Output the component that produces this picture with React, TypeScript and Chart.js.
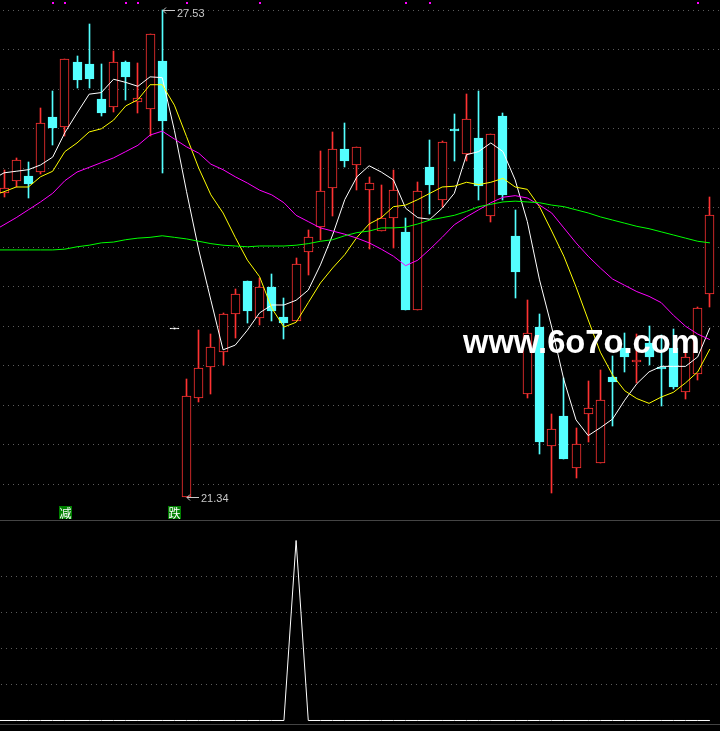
import React, { useEffect, useRef } from 'react';
import { Chart, registerables } from 'chart.js';

Chart.register(...registerables);

// ---- candle data (day 0..58) ----
const OPEN = [25.20, 25.36, 25.42, 25.47, 26.17, 26.04, 26.87, 26.84, 26.40, 26.30, 26.87, 26.36, 26.27, 26.88, 23.49, 21.34, 22.60, 22.99, 23.18, 23.67, 24.09, 23.62, 24.01, 23.63, 23.58, 24.45, 24.77, 25.27, 25.76, 25.56, 25.24, 24.72, 24.89, 24.71, 23.72, 25.53, 25.12, 26.02, 25.70, 25.90, 24.91, 26.18, 24.66, 22.65, 23.50, 21.99, 22.37, 21.71, 22.39, 21.77, 22.86, 23.23, 23.06, 23.30, 22.99, 23.23, 22.67, 22.90, 23.92];
const HIGH = [25.50, 25.65, 25.60, 26.28, 26.50, 26.91, 26.95, 27.35, 26.84, 27.01, 26.88, 26.86, 27.23, 27.53, 23.49, 22.84, 23.46, 23.41, 23.68, 23.98, 24.09, 24.12, 24.17, 23.87, 24.38, 24.73, 25.74, 25.98, 26.09, 25.79, 25.41, 25.31, 25.50, 24.89, 25.34, 25.88, 25.86, 26.21, 26.46, 26.50, 25.95, 26.22, 24.99, 23.84, 23.67, 22.39, 22.85, 22.22, 22.81, 22.95, 23.13, 23.42, 23.41, 23.51, 23.40, 23.47, 23.17, 23.76, 25.15];
const LOW = [25.15, 25.28, 25.14, 25.45, 25.81, 25.93, 26.54, 26.54, 26.18, 26.23, 26.39, 26.22, 25.93, 25.46, 23.49, 21.34, 22.55, 22.65, 23.02, 23.36, 23.55, 23.53, 23.58, 23.35, 23.58, 24.16, 24.61, 24.91, 25.53, 25.24, 24.49, 24.72, 24.50, 23.72, 23.72, 24.94, 25.03, 25.61, 25.61, 25.12, 24.83, 25.12, 23.87, 22.60, 21.89, 21.39, 21.82, 21.58, 22.04, 21.77, 22.24, 22.93, 22.79, 23.02, 22.50, 22.71, 22.59, 22.83, 23.76];
const CLOSE = [25.27, 25.62, 25.32, 26.09, 26.03, 26.91, 26.64, 26.65, 26.22, 26.87, 26.68, 26.41, 27.23, 26.12, 23.49, 22.62, 22.98, 23.25, 23.67, 23.92, 23.70, 24.01, 23.70, 23.55, 24.30, 24.64, 25.23, 25.76, 25.61, 25.79, 25.33, 24.89, 25.24, 23.72, 25.23, 25.31, 25.85, 25.99, 26.14, 25.29, 25.95, 25.18, 24.20, 23.42, 22.04, 22.20, 21.82, 22.01, 22.47, 22.57, 22.80, 23.12, 23.08, 23.12, 22.97, 22.74, 23.12, 23.74, 24.92];

// ---- moving averages (day -1..58) ----
const MA_FIRST_DAY = -1;
const MA5 = [25.37, 25.46, 25.48, 25.50, 25.56, 25.66, 25.97, 26.22, 26.46, 26.48, 26.65, 26.61, 26.56, 26.68, 26.67, 26.00, 25.22, 24.48, 23.84, 23.21, 23.27, 23.46, 23.68, 23.78, 23.78, 23.84, 23.97, 24.29, 24.67, 25.12, 25.41, 25.55, 25.47, 25.37, 25.01, 24.89, 24.87, 25.01, 25.20, 25.69, 25.73, 25.84, 25.73, 25.37, 24.84, 24.10, 23.50, 22.83, 22.32, 22.12, 22.22, 22.33, 22.57, 22.78, 22.93, 23.00, 23.00, 23.00, 23.12, 23.49];
const MA10 = [25.17, 25.22, 25.28, 25.28, 25.41, 25.48, 25.73, 25.84, 25.98, 26.02, 26.13, 26.31, 26.39, 26.58, 26.58, 26.32, 25.92, 25.52, 25.18, 24.95, 24.64, 24.35, 24.14, 23.74, 23.50, 23.56, 23.81, 24.06, 24.25, 24.42, 24.64, 24.81, 24.89, 25.03, 25.05, 25.12, 25.20, 25.28, 25.29, 25.34, 25.31, 25.34, 25.39, 25.28, 25.25, 25.03, 24.72, 24.40, 24.01, 23.59, 23.18, 22.89, 22.69, 22.59, 22.53, 22.61, 22.67, 22.79, 22.93, 23.22];
const MA20 = [24.71, 24.80, 24.89, 24.99, 25.09, 25.20, 25.36, 25.47, 25.53, 25.59, 25.65, 25.73, 25.81, 25.94, 25.99, 25.89, 25.79, 25.71, 25.57, 25.50, 25.41, 25.33, 25.24, 25.18, 25.08, 24.92, 24.84, 24.76, 24.72, 24.68, 24.63, 24.57, 24.49, 24.40, 24.28, 24.35, 24.49, 24.64, 24.80, 24.90, 24.99, 25.08, 25.15, 25.17, 25.14, 25.05, 24.95, 24.76, 24.57, 24.40, 24.25, 24.11, 24.03, 23.95, 23.89, 23.81, 23.65, 23.51, 23.41, 23.34];
const MA60 = [24.48, 24.48, 24.48, 24.48, 24.48, 24.48, 24.49, 24.52, 24.54, 24.57, 24.58, 24.61, 24.63, 24.64, 24.66, 24.64, 24.62, 24.59, 24.56, 24.54, 24.53, 24.52, 24.53, 24.53, 24.53, 24.54, 24.56, 24.59, 24.61, 24.66, 24.70, 24.72, 24.76, 24.76, 24.77, 24.81, 24.86, 24.89, 24.92, 24.97, 25.03, 25.06, 25.09, 25.10, 25.09, 25.08, 25.05, 25.03, 24.99, 24.95, 24.90, 24.86, 24.82, 24.78, 24.75, 24.71, 24.67, 24.63, 24.59, 24.57];

// ---- lower indicator (day -1..58) ----
const SIGNAL = [0, 0, 0, 0, 0, 0, 0, 0, 0, 0, 0, 0, 0, 0, 0, 0, 0, 0, 0, 0, 0, 0, 0, 0, 0, 5, 0, 0, 0, 0, 0, 0, 0, 0, 0, 0, 0, 0, 0, 0, 0, 0, 0, 0, 0, 0, 0, 0, 0, 0, 0, 0, 0, 0, 0, 0, 0, 0, 0, 0];
const SIGNAL_GRID = [1, 2, 3, 4];

// ---- markers / tags ----
const TOP_MARK_DAYS = [4, 5, 10, 11, 15, 21, 33, 35, 57];
const TAG_DAYS = [5, 14];
const TAG_TEXTS = ['减', '跌'];
const WATERMARK = 'www.6o7o.com';

// ---- price grid ----
const GRID_TOP = 27.53;
const GRID_STEP = 0.502;
const GRID_COUNT = 13;

const RED = '#ff3232';
const CYAN = '#54ffff';
const GRID_COLOR = '#5c5c5c';

const X_MIN = -0.329;
const X_MAX = 58.83;

function candleColor(i: number) {
  if (CLOSE[i] > OPEN[i]) return RED;
  if (CLOSE[i] < OPEN[i]) return CYAN;
  return '#ffffff';
}

// snap bar elements onto whole pixels so candles stay crisp
const pixelSnap = {
  id: 'pixelSnap',
  afterDatasetsUpdate(chart: any) {
    chart.data.datasets.forEach((ds: any, di: number) => {
      if (ds.type !== 'bar') return;
      const meta = chart.getDatasetMeta(di);
      meta.data.forEach((el: any) => {
        el.x = Math.floor(el.x) + 0.5;
        el.y = Math.round(el.y);
        el.base = Math.round(el.base);
        if (el.y === el.base) el.base = el.y + 1;
      });
    });
  },
};

const topDecor = {
  id: 'topDecor',
  beforeDatasetsDraw(chart: any) {
    const { ctx, chartArea, scales } = chart;
    const y = scales.y;
    ctx.save();
    ctx.strokeStyle = GRID_COLOR;
    ctx.lineWidth = 1;
    ctx.setLineDash([1, 4]);
    for (let k = 0; k < GRID_COUNT; k++) {
      const py = Math.round(y.getPixelForValue(GRID_TOP - k * GRID_STEP)) + 0.5;
      ctx.beginPath();
      ctx.moveTo(chartArea.left + 3, py);
      ctx.lineTo(chartArea.right, py);
      ctx.stroke();
    }
    ctx.restore();
  },
  afterDatasetsDraw(chart: any) {
    const { ctx, chartArea, scales } = chart;
    const x = scales.x;
    const y = scales.y;
    ctx.save();
    // magenta signal marks at the top
    ctx.fillStyle = '#ff00ff';
    TOP_MARK_DAYS.forEach((d) => {
      const px = Math.round(x.getPixelForValue(d));
      ctx.fillRect(px - 1, chartArea.top + 2, 2, 2);
    });

    // max / min labels
    let hi = 0, lo = 0;
    for (let i = 0; i < HIGH.length; i++) {
      if (HIGH[i] > HIGH[hi]) hi = i;
      if (LOW[i] < LOW[lo]) lo = i;
    }
    ctx.strokeStyle = '#c8c8c8';
    ctx.fillStyle = '#c8c8c8';
    ctx.lineWidth = 1;
    ctx.font = '11px "Liberation Sans", "DejaVu Sans", sans-serif';
    ctx.textBaseline = 'middle';
    ctx.textAlign = 'left';
    const drawLabel = (idx: number, val: number) => {
      const px = Math.floor(x.getPixelForValue(idx)) + 1;
      const py = Math.round(y.getPixelForValue(val)) + 0.5;
      ctx.beginPath();
      ctx.moveTo(px, py);
      ctx.lineTo(px + 12, py);
      ctx.moveTo(px + 3, py - 3);
      ctx.lineTo(px, py);
      ctx.lineTo(px + 3, py + 3);
      ctx.stroke();
      ctx.fillText(val.toFixed(2), px + 14, Math.max(py + 1, 14));
    };
    drawLabel(hi, HIGH[hi]);
    drawLabel(lo, LOW[lo]);

    // green tags at the bottom of the price panel
    ctx.font = '12px "Noto Sans CJK SC", sans-serif';
    ctx.textAlign = 'center';
    TAG_DAYS.forEach((d, j) => {
      const px = Math.round(x.getPixelForValue(d));
      const top = chartArea.bottom - 14;
      ctx.fillStyle = '#008000';
      ctx.fillRect(px - 6, top, 13, 13);
      ctx.fillStyle = '#ffffff';
      ctx.fillText(TAG_TEXTS[j], px + 0.5, top + 7);
    });

    // watermark
    ctx.textAlign = 'left';
    ctx.textBaseline = 'alphabetic';
    ctx.font = 'bold 32px "Liberation Sans", sans-serif';
    const w = ctx.measureText(WATERMARK).width;
    const size = 32 * 237 / w;
    ctx.font = `bold ${size.toFixed(1)}px "Liberation Sans", sans-serif`;
    ctx.fillStyle = '#ffffff';
    ctx.fillText(WATERMARK, 463, 353);
    ctx.restore();
  },
};

const bottomDecor = {
  id: 'bottomDecor',
  beforeDatasetsDraw(chart: any) {
    const { ctx, chartArea, scales } = chart;
    const y = scales.y;
    ctx.save();
    ctx.strokeStyle = GRID_COLOR;
    ctx.lineWidth = 1;
    ctx.setLineDash([1, 4]);
    SIGNAL_GRID.forEach((v) => {
      const py = Math.floor(y.getPixelForValue(v)) + 0.5;
      ctx.beginPath();
      ctx.moveTo(chartArea.left + 1, py);
      ctx.lineTo(chartArea.right, py);
      ctx.stroke();
    });
    ctx.setLineDash([]);
    ctx.strokeStyle = '#444444';
    ctx.beginPath();
    ctx.moveTo(chartArea.left, 0.5);
    ctx.lineTo(chartArea.right, 0.5);
    ctx.moveTo(chartArea.left, chart.height - 6.5);
    ctx.lineTo(chartArea.right, chart.height - 6.5);
    ctx.stroke();
    ctx.restore();
  },
};

function maPoints(arr: number[]) {
  return arr.map((v, k) => ({ x: k + MA_FIRST_DAY, y: v }));
}

export default function App() {
  const topRef = useRef<HTMLCanvasElement | null>(null);
  const botRef = useRef<HTMLCanvasElement | null>(null);

  useEffect(() => {
    const days = OPEN.map((_, i) => i);
    const colors = days.map(candleColor);
    const bodyFill = days.map((i) => (CLOSE[i] > OPEN[i] ? '#000000' : candleColor(i)));
    const bodyData = days.map((i) => ({ x: i, y: [OPEN[i], CLOSE[i]] }));
    const wickData = days.map((i) => ({ x: i, y: [LOW[i], HIGH[i]] }));

    const line = (data: number[], color: string) => ({
      type: 'line' as const,
      data: maPoints(data),
      borderColor: color,
      borderWidth: 1,
      pointRadius: 0,
      tension: 0,
      fill: false,
      order: -1,
    });

    const top = new Chart(topRef.current as HTMLCanvasElement, {
      type: 'bar',
      data: {
        datasets: [
          {
            type: 'bar',
            data: wickData as any,
            backgroundColor: colors,
            borderWidth: 0,
            barThickness: 1,
            grouped: false,
            order: 2,
          } as any,
          {
            type: 'bar',
            data: bodyData as any,
            backgroundColor: bodyFill,
            borderColor: colors,
            borderWidth: 1,
            borderSkipped: false,
            barThickness: 9,
            grouped: false,
            order: 1,
          } as any,
          line(MA60, '#00ff00'),
          line(MA20, '#ff00ff'),
          line(MA10, '#ffff00'),
          line(MA5, '#ffffff'),
        ],
      },
      options: {
        animation: false,
        responsive: false,
        events: [],
        layout: { padding: 0 },
        plugins: { legend: { display: false }, tooltip: { enabled: false } },
        scales: {
          x: { type: 'linear', min: X_MIN, max: X_MAX, offset: false, display: false },
          y: { type: 'linear', min: 21.047, max: 27.657, display: false, beginAtZero: false },
        },
      },
      plugins: [pixelSnap, topDecor],
    });

    const bottom = new Chart(botRef.current as HTMLCanvasElement, {
      type: 'line',
      data: {
        datasets: [
          {
            data: SIGNAL.map((v, k) => ({ x: k + MA_FIRST_DAY, y: v })),
            borderColor: '#ffffff',
            borderWidth: 1,
            pointRadius: 0,
            tension: 0,
            fill: false,
          },
        ],
      },
      options: {
        animation: false,
        responsive: false,
        events: [],
        layout: { padding: 0 },
        plugins: { legend: { display: false }, tooltip: { enabled: false } },
        scales: {
          x: { type: 'linear', min: X_MIN, max: X_MAX, offset: false, display: false },
          y: { type: 'linear', min: -0.2917, max: 5.5694, display: false },
        },
      },
      plugins: [bottomDecor],
    });

    return () => {
      top.destroy();
      bottom.destroy();
    };
  }, []);

  return (
    <div style={{ position: 'absolute', left: 0, top: 0, width: 720, height: 731, background: '#000000', overflow: 'hidden' }}>
      <canvas ref={topRef} width={720} height={520} style={{ position: 'absolute', left: 0, top: 0, display: 'block' }} />
      <canvas ref={botRef} width={720} height={211} style={{ position: 'absolute', left: 0, top: 520, display: 'block' }} />
    </div>
  );
}
